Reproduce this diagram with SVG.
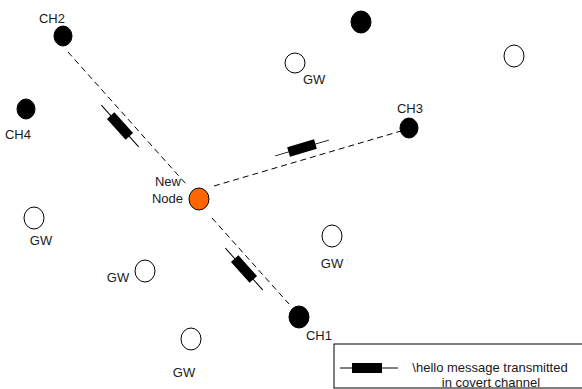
<svg xmlns="http://www.w3.org/2000/svg" xmlns:xlink="http://www.w3.org/1999/xlink" width="582" height="389" viewBox="0 0 582 389">
<style>
.ch{fill:#000;stroke:#000;stroke-width:1}
.gw{fill:#fff;stroke:#000;stroke-width:1}
.nn{fill:#FF6600;stroke:#000;stroke-width:1}
.lbl{font-family:"Liberation Sans",Arial,sans-serif;font-size:13px;fill:#1a1a1a}
.dash{stroke:#000;stroke-width:1;stroke-dasharray:6,4;fill:none}
.msgl{stroke:#000;stroke-width:1}
</style>
<defs>
<g id="msg">
<line class="msgl" x1="-28" y1="0" x2="28" y2="0"/>
<rect x="-14" y="-5" width="28" height="10" fill="#000"/>
</g>
</defs>
<rect width="582" height="389" fill="#fff"/>
<g id="connectors">
<line class="dash" x1="68" y1="52" x2="186" y2="184"/>
<line class="dash" x1="212" y1="218" x2="289" y2="304"/>
<line class="dash" x1="214" y1="186" x2="401" y2="131"/>
<use xlink:href="#msg" transform="translate(120,126) rotate(48.2)"/>
<use xlink:href="#msg" transform="translate(244,269) rotate(48.2)"/>
<use xlink:href="#msg" transform="translate(302,148) rotate(-16.3)"/>
</g>
<g id="ch2"><ellipse class="ch" cx="63" cy="36" rx="9" ry="10"/><text class="lbl" x="52" y="23" text-anchor="middle">CH2</text></g>
<g id="ch4"><ellipse class="ch" cx="26" cy="109" rx="9" ry="10"/><text class="lbl" x="18" y="139" text-anchor="middle">CH4</text></g>
<g id="ch3"><ellipse class="ch" cx="409" cy="128" rx="9" ry="10"/><text class="lbl" x="410" y="113" text-anchor="middle">CH3</text></g>
<g id="ch1"><ellipse class="ch" cx="299" cy="317" rx="10" ry="11"/><text class="lbl" x="319" y="340" text-anchor="middle">CH1</text></g>
<g id="ch-top"><ellipse class="ch" cx="361" cy="22" rx="10" ry="11"/></g>
<g id="newnode"><ellipse class="nn" cx="199" cy="199" rx="10" ry="11"/><text class="lbl" x="181" y="186" text-anchor="end">New</text><text class="lbl" x="183" y="203" text-anchor="end">Node</text></g>
<g id="gw1"><ellipse class="gw" cx="295" cy="63" rx="10" ry="10"/><text class="lbl" x="303" y="84">GW</text></g>
<g id="gw-tr"><ellipse class="gw" cx="514" cy="56" rx="10" ry="11"/></g>
<g id="gw2"><ellipse class="gw" cx="34" cy="218" rx="10" ry="11"/><text class="lbl" x="41" y="245" text-anchor="middle">GW</text></g>
<g id="gw3"><ellipse class="gw" cx="145" cy="271" rx="10" ry="11"/><text class="lbl" x="118" y="282" text-anchor="middle">GW</text></g>
<g id="gw4"><ellipse class="gw" cx="191" cy="339" rx="10" ry="11"/><text class="lbl" x="184" y="377" text-anchor="middle">GW</text></g>
<g id="gw5"><ellipse class="gw" cx="332" cy="236" rx="10" ry="11"/><text class="lbl" x="332" y="268" text-anchor="middle">GW</text></g>
<g id="legend">
<rect x="334" y="344" width="260" height="44" fill="none" stroke="#000" stroke-width="1"/>
<line class="msgl" x1="340" y1="368" x2="398" y2="368"/>
<rect x="352" y="363" width="30" height="10" fill="#000"/>
<text class="lbl" x="490" y="372" text-anchor="middle">\hello message transmitted</text>
<text class="lbl" x="491" y="387" text-anchor="middle">in covert channel</text>
</g>
</svg>
